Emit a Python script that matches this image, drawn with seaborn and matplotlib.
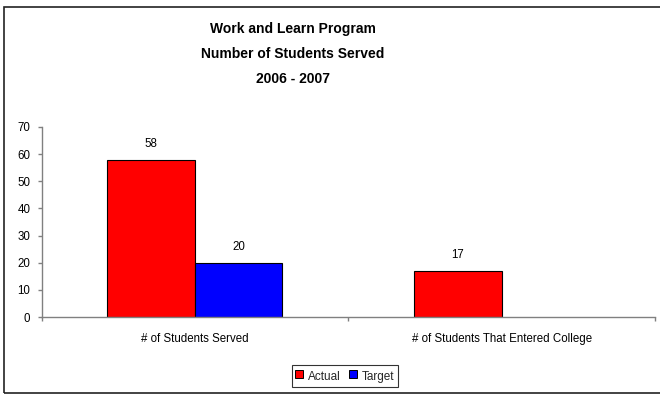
import matplotlib
matplotlib.use("Agg")
import matplotlib.pyplot as plt
from matplotlib.patches import Rectangle
from matplotlib.lines import Line2D
import seaborn as sns
import pandas as pd

categories = ["# of Students Served", "# of Students That Entered College"]
actual = [58, 17]
target = [20]  # no target set for college entry
series_names = ["Actual", "Target"]
series_colors = ["#FF0000", "#0000FF"]
title_lines = ["Work and Learn Program", "Number of Students Served", "2006 - 2007"]
y_ticks = [0, 10, 20, 30, 40, 50, 60, 70]

rows = [{"category": c, "series": "Actual", "value": v} for c, v in zip(categories, actual)]
rows += [{"category": c, "series": "Target", "value": v} for c, v in zip(categories, target)]
df = pd.DataFrame(rows)

sns.set_theme(style="white")
plt.rcParams["font.family"] = ["Liberation Sans", "DejaVu Sans"]

fig = plt.figure(figsize=(6.6, 3.94), dpi=100)
ax = fig.add_axes([0.0629, 0.1954, 0.9295, 0.4823])

sns.barplot(data=df, x="category", y="value", hue="series",
            order=categories, hue_order=series_names,
            palette=dict(zip(series_names, series_colors)),
            width=0.57, saturation=1, edgecolor="black", linewidth=0.8,
            errorbar=None, legend=False, ax=ax)

for cont in ax.containers:
    ax.bar_label(cont, fmt="%g", padding=7, fontsize=8.3, color="black")

ax.set_xlim(-0.5, 1.5)
ax.set_ylim(0, 70)
ax.set_yticks(y_ticks)
ax.set_xlabel("")
ax.set_ylabel("")

grey = "#808080"
for side in ["top", "right"]:
    ax.spines[side].set_visible(False)
for side in ["left", "bottom"]:
    ax.spines[side].set_color(grey)
    ax.spines[side].set_linewidth(1.0)

ax.tick_params(axis="y", which="major", left=True, length=3, width=1, color=grey,
               direction="out", pad=5, labelsize=8.3, labelcolor="black")
ax.tick_params(axis="x", which="major", bottom=False, length=0, pad=11.5,
               labelsize=8.3, labelcolor="black")
ax.set_xticks([-0.5, 0.5, 1.5], minor=True)
ax.tick_params(axis="x", which="minor", bottom=True, length=3, width=1,
               color=grey, direction="out")

handles = [Line2D([], [], linestyle="none", marker="s", markersize=5.2,
                  markerfacecolor=c, markeredgecolor="black", markeredgewidth=0.7)
           for c in series_colors]
leg = ax.legend(handles, series_names, loc="center",
                bbox_to_anchor=(345 / 660, 1 - 376 / 394),
                bbox_transform=fig.transFigure, ncol=2, frameon=True,
                fontsize=8.5, handlelength=0.6, handleheight=1.5,
                handletextpad=0.45, columnspacing=0.7, borderpad=0.35,
                fancybox=False, borderaxespad=0)
leg.get_frame().set_edgecolor("black")
leg.get_frame().set_linewidth(0.8)

for i, line in enumerate(title_lines):
    fig.text(293 / 660, 1 - (28.5 + 25.2 * i) / 394, line, ha="center", va="center",
             fontsize=10, fontweight="bold", color="black")

fig.patches.append(Rectangle((4 / 660, 1 - 393 / 394), 1.0, (393 - 7) / 394,
                             transform=fig.transFigure, fill=False,
                             edgecolor="#222222", linewidth=1.2))

fig.savefig("out.png", dpi=100)
